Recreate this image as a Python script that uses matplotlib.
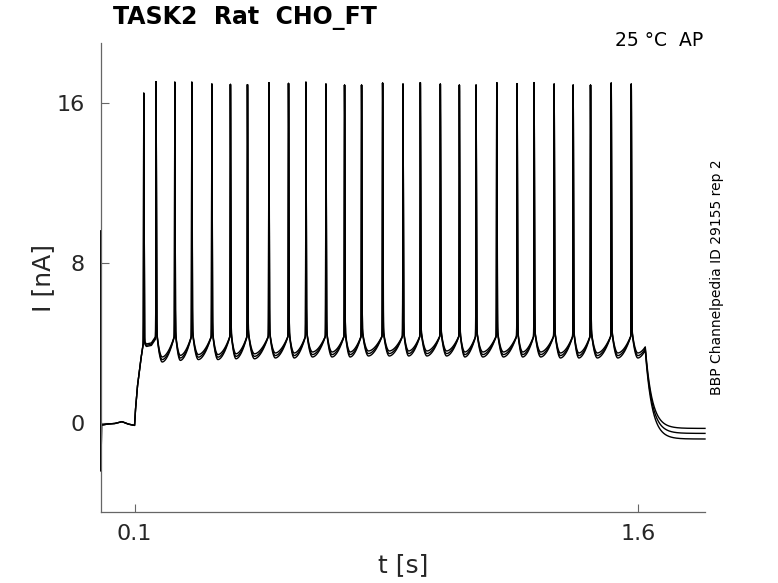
import numpy as np
import matplotlib
matplotlib.use('Agg')
import matplotlib.pyplot as plt

# values
spike_t = [0.1274, 0.1641, 0.2199, 0.2706, 0.3303, 0.3857, 0.4365, 0.5003, 0.5588,
           0.6107, 0.6703, 0.7258, 0.7765, 0.8392, 0.9000, 0.9517, 1.0113, 1.0680,
           1.1178, 1.1793, 1.2401, 1.2908, 1.3505, 1.4072, 1.4588, 1.5206, 1.5803]
spike_peak = [16.49, 17.07, 17.04, 17.04, 16.95, 16.93, 16.92, 17.02, 16.98,
              17.04, 16.95, 16.90, 16.90, 17.00, 16.95, 17.02, 16.95, 16.90,
              16.90, 17.02, 16.97, 17.02, 16.95, 16.90, 16.90, 17.00, 16.95]
# minimum between spikes (after spike 2 onwards)
trough = [3.20, 3.28, 3.32, 3.32, 3.36, 3.36, 3.40, 3.40, 3.45, 3.45, 3.45, 3.50, 3.50,
          3.50, 3.50, 3.50, 3.45, 3.45, 3.45, 3.45, 3.45, 3.40, 3.40, 3.40, 3.40]
last_trough = 3.40

pre_t = [0.0, 0.0003, 0.0012, 0.02, 0.04, 0.062, 0.08, 0.0999]
pre_v = [9.6, -2.4, -0.10, -0.05, -0.03, 0.07, -0.05, -0.12]
rise_t = [0.1, 0.102, 0.108, 0.118, 0.1274]
rise_v = [-0.12, 0.5, 1.75, 3.1, 4.1]
first_t = [0.1274, 0.135, 0.15, 0.1641]
first_v = [4.1, 3.9, 3.95, 4.3]

rep_offset = [0.10, -0.03, -0.15]
rep_final = [-0.27, -0.52, -0.80]

t_step_end = 1.622
t_stop = 1.80

dt = 0.0001
t = np.arange(0, t_stop + dt / 2, dt)


def interval(tt, t0, t1, vmin, v0=4.9, v1=4.4, sm=0.33):
    s = (tt - t0) / (t1 - t0)
    return np.where(s < sm,
                    vmin + (v0 - vmin) * ((sm - s) / sm) ** 2,
                    vmin + (v1 - vmin) * ((s - sm) / (1 - sm)) ** 1.8)


def make_trace(off, final):
    v = np.zeros_like(t)
    m = t < 0.1
    v[m] = np.interp(t[m], pre_t, pre_v)
    m = (t >= 0.1) & (t < spike_t[0])
    v[m] = np.interp(t[m], rise_t, rise_v)
    m = (t >= spike_t[0]) & (t < spike_t[1])
    v[m] = np.interp(t[m], first_t, first_v) + off * 0.5
    for k in range(1, len(spike_t) - 1):
        t0, t1 = spike_t[k], spike_t[k + 1]
        m = (t >= t0) & (t < t1)
        v[m] = interval(t[m], t0, t1, trough[k - 1] + off)
    t0 = spike_t[-1]
    t1 = t0 + (spike_t[-1] - spike_t[-2])
    m = (t >= t0) & (t < t_step_end)
    v[m] = interval(t[m], t0, t1, last_trough + off)
    v_end = interval(np.array([t_step_end]), t0, t1, last_trough + off)[0]
    m = t >= t_step_end
    v[m] = final + (v_end - final) * np.exp(-(t[m] - t_step_end) / 0.02)
    for tk, pk in zip(spike_t, spike_peak):
        d = t - tk
        shape = np.where(d < 0, np.exp(-(d / 0.0007) ** 2), np.exp(-(d / 0.0013) ** 2))
        base = v[np.argmin(np.abs(d))]
        v = v + (pk - base) * shape
    return v


fig = plt.figure(figsize=(7.78, 5.83), dpi=100)
ax = fig.add_axes([101 / 778, 71 / 583, 604 / 778, 469 / 583])

for off, fin in zip(rep_offset, rep_final):
    ax.plot(t, make_trace(off, fin), color='black', lw=1.0, clip_on=False)

ax.set_xlim(0, t_stop)
ax.set_ylim(-4.45, 19.0)
ax.set_xticks([0.1, 1.6])
ax.set_xticklabels(['0.1', '1.6'])
ax.set_yticks([0, 8, 16])
ax.set_yticklabels(['0', '8', '16'])
for side in ['top', 'right']:
    ax.spines[side].set_visible(False)
for side in ['left', 'bottom']:
    ax.spines[side].set_color('#666666')
    ax.spines[side].set_linewidth(0.9)
ax.tick_params(direction='in', length=6, width=0.8, color='#666666',
               labelsize=16, labelcolor='#262626')
ax.tick_params(axis='y', pad=12)
ax.tick_params(axis='x', pad=9)
ax.set_xlabel('t [s]', fontsize=18, color='#262626', labelpad=6)
ax.set_ylabel('I [nA]', fontsize=18, color='#262626', labelpad=1)

fig.text(113 / 778, 1 - 18 / 583, 'TASK2  Rat  CHO_FT', fontsize=17,
         fontweight='bold', ha='left', va='center')
fig.text(703 / 778, 1 - 41 / 583, '25 °C  AP', fontsize=13.5,
         ha='right', va='center')
ax.text(1.02, 0.5, 'BBP Channelpedia ID 29155 rep 2', transform=ax.transAxes,
        rotation=90, fontsize=10, ha='center', va='center')

fig.savefig('out.png', dpi=100)
